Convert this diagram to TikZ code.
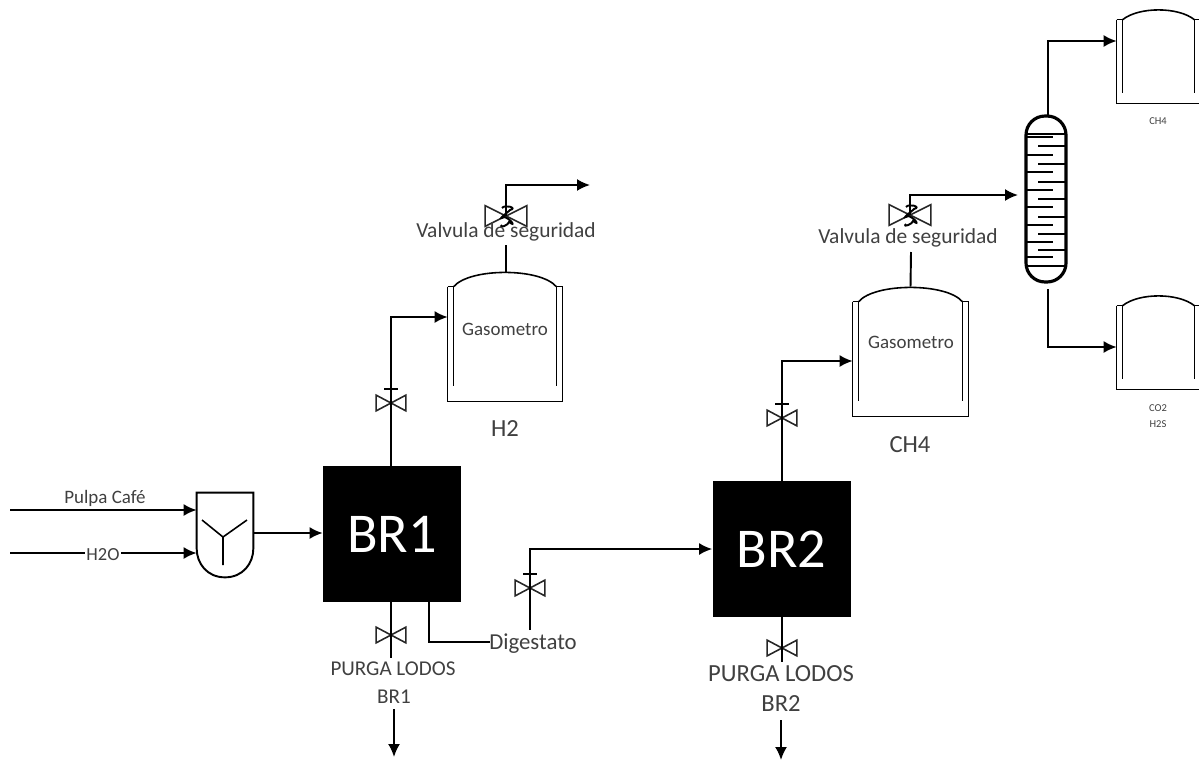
\documentclass[tikz,border=0pt]{standalone}
\usepackage{fontspec}
\setmainfont{Carlito}
\usetikzlibrary{arrows.meta,positioning,calc}
\newcommand{\fs}[1]{\fontsize{#1}{#1}\selectfont}
\newcommand{\tankwalls}[3]{
\draw[tankline] (#1.north west) -- (#1.south west) -- (#1.south east) -- (#1.north east) -- ++(-6,0) -- ($(#1.south east)+(-6,-#3)$);
\draw[tankline] (#1.north west) -- ++(6,0) -- ($(#1.south west)+(6,-#3)$);
\draw[tankline] ($(#1.north west)+(6,0)$) .. controls +(16,-#2) and +(-16,-#2) .. ($(#1.north east)+(-6,0)$);
}
\newcommand{\valvebody}[1]{
\draw[valveline] (#1.north west) -- (#1.south east) -- (#1.north east) -- (#1.south west) -- cycle;
}
\begin{document}
\begin{tikzpicture}[
    x=0.02cm, y=-0.02cm,
    txt/.style={inner sep=0pt, text=black!75, align=center},
    pipe/.style={line width=1.1pt},
    valveline/.style={line width=0.9pt, black!85},
    arrow/.style={-{Latex[length=2.6mm,width=2.4mm]}, line width=1.1pt},
    tankline/.style={line width=0.9pt},
    tank/.style={rectangle, inner sep=0pt},
    reactor/.style={rectangle, fill=black, text=white, minimum width=2.76cm, minimum height=2.72cm, inner sep=0pt, font=\fs{32}},
    valve/.style={rectangle, inner sep=0pt, minimum width=0.58cm, minimum height=0.3cm},
    safety/.style={rectangle, inner sep=0pt, minimum width=0.82cm, minimum height=0.4cm}
]
\useasboundingbox (0,0) rectangle (1199,761);

% reactors and mixer
\node[reactor] (br1) at (392,534) {BR1};
\node[reactor] (br2) at (781.5,549) {BR2};
\node[rectangle, inner sep=0pt, minimum width=1.12cm, minimum height=1.68cm] (mix) at (225,535) {};
\draw[pipe] (mix.south) .. controls +(-18,0) and +(0,15) .. ($(mix.south west)+(0,-29)$) -- (mix.north west) -- (mix.north east) -- ($(mix.south east)+(0,-29)$) .. controls +(0,15) and +(18,0) .. (mix.south);
\coordinate (mixc) at (223,537);
\draw[tankline] (202,520) -- (mixc) -- (247,520) (mixc) -- (223,565);

% tanks
\node[tank, minimum width=2.28cm, minimum height=2.28cm] (gas1) at (505,344) {};
\node[tank, minimum width=2.3cm, minimum height=2.28cm] (gas2) at (910.5,359) {};
\node[tank, minimum width=1.66cm, minimum height=1.66cm] (ch4) at (1158.5,61.5) {};
\node[tank, minimum width=1.66cm, minimum height=1.66cm] (co2) at (1158.5,347.5) {};
\tankwalls{gas1}{19}{15}
\tankwalls{gas2}{19}{15}
\tankwalls{ch4}{13}{10}
\tankwalls{co2}{13}{10}

% column
\node[rectangle, draw=black, line width=1.8pt, outer sep=0pt, rounded corners=0.38cm, inner sep=0pt, minimum width=0.8cm, minimum height=3.32cm] (col) at (1046,199) {};
\draw[line width=1.1pt] ($(col.north west)+(0,18)$) -- ($(col.north east)+(0,18)$);
\draw[line width=1.1pt] ($(col.south west)+(0,-16)$) -- ($(col.south east)+(0,-16)$);
\foreach \yy in {137,155,172,190,207,225,242,257}
    \draw[line width=1.5pt] (col.west |- 0,\yy) -- (1053,\yy);
\foreach \yy in {146,164,182,199,217,234,250}
    \draw[line width=1.5pt] (col.east |- 0,\yy) -- (1038,\yy);

% valves
\node[valve] (vh2) at (391,403) {};
\node[valve] (vch4) at (782,418) {};
\node[valve] (vdig) at (530,588) {};
\node[valve] (vp1) at (391,635) {};
\node[valve] (vp2) at (782,648) {};
\node[safety] (vs1) at (506,216) {};
\node[safety] (vs2) at (910,215) {};
\foreach \vv in {vh2,vch4,vdig,vp1,vp2,vs1,vs2}
    \valvebody{\vv};
\foreach \vv in {vh2,vch4,vdig}
    \draw[pipe] ($(\vv.center)+(-7,-14)$) -- ($(\vv.center)+(7,-14)$);
\foreach \vv in {vs1,vs2}
    \draw[pipe] ($(\vv.center)+(-4,-8)$) .. controls +(3,-4) and +(8,-2) .. ($(\vv.center)+(4,-6)$) .. controls +(-3,3) and +(-8,4) .. ($(\vv.center)+(-2,1)$) .. controls +(6,1) and +(8,6) .. ($(\vv.center)+(3,6)$) .. controls +(0,3) and +(-4,4) .. ($(\vv.center)+(-4,9)$);

% free ends
\coordinate (in1) at (10,510);
\coordinate (in2) at (10,553);
\coordinate (out1) at (590,185);
\coordinate (pout1) at (394,709);
\coordinate (pend1) at (394,757);
\coordinate (pout2) at (781,720);
\coordinate (pend2) at (781,760);
\coordinate (pend3) at (391,658);
\coordinate (pend4) at (782,662);
\coordinate (colout) at (1048,289);

% pipes
\draw[arrow] (in1) -- (mix.west |- in1);
\draw[arrow] (in2) -- (mix.west |- in2);
\draw[arrow] (mix.east |- 0,533) -- (br1.west |- 0,533);
\draw[arrow] (br1.north -| vh2) -- (vh2.center) -- (vh2.center |- 0,317) -- (gas1.west |- 0,317);
\draw[arrow] (br2.north -| vch4) -- (vch4.center) -- (vch4.center |- 0,361) -- (gas2.west |- 0,361);
\draw[pipe] (gas1.north) ++(1,-15) -- (506,245);
\draw[pipe] (gas2.north) ++(0,-15) -- (911,252);
\draw[arrow] (vs1.center) -- (vs1.center |- out1) -- (out1);
\draw[arrow] (vs2.center) -- (vs2.center |- 0,195) -- (1018,195);
\draw[arrow] (1048,116) -- (1048,41) -- (ch4.west |- 0,41);
\draw[arrow] (colout) -- (1048,347) -- (co2.west |- 0,347);
\draw[pipe] (br1.south -| vp1) -- (vp1.center) -- (pend3);
\draw[pipe] (br2.south -| vp2) -- (vp2.center) -- (pend4);
\draw[pipe] (br1.south -| 429,0) -- (429,642) -- (490,642);
\draw[arrow] (vdig.center |- 0,630) -- (vdig.center) -- (vdig.center |- 0,549) -- (br2.west |- 0,549);
\draw[arrow] (pout1) -- (pend1);
\draw[arrow] (pout2) -- (pend2);

% labels
\node[txt, font=\fs{10.8}] (pulpa) at (105,498) {Pulpa Café};
\node[txt, font=\fs{10.5}, fill=white, inner xsep=1pt] (h2o) at (103,555) {H2O};
\node[txt, font=\fs{10.8}] (gastxt1) at (505,329) {Gasometro};
\node[txt, font=\fs{10.8}] (gastxt2) at (911,342) {Gasometro};
\node[txt, font=\fs{14}] (h2txt) at (505,429) {H2};
\node[txt, font=\fs{14}] (ch4txt) at (910,445) {CH4};
\node[txt, font=\fs{12.2}] (seg1) at (506,232) {Valvula de seguridad};
\node[txt, font=\fs{12.2}] (seg2) at (908,238) {Valvula de seguridad};
\node[txt, font=\fs{13}] (dig) at (533,644) {Digestato};
\node[txt, font=\fs{12}] (lodos1) at (393,669) {PURGA LODOS};
\node[txt, font=\fs{12}] (lodosbr1) at (394,697) {BR1};
\node[txt, font=\fs{14}] (lodos2) at (781,674) {PURGA LODOS};
\node[txt, font=\fs{14}] (lodosbr2) at (781,704) {BR2};
\node[txt, font=\fs{6}] (ch4lab) at (1158,121) {CH4};
\node[txt, font=\fs{6}, text height=5pt] (co2lab) at (1158,407) {CO2};
\node[txt, font=\fs{6}, text height=5pt] (h2slab) at (1158,423) {H2S};
\end{tikzpicture}
\end{document}
